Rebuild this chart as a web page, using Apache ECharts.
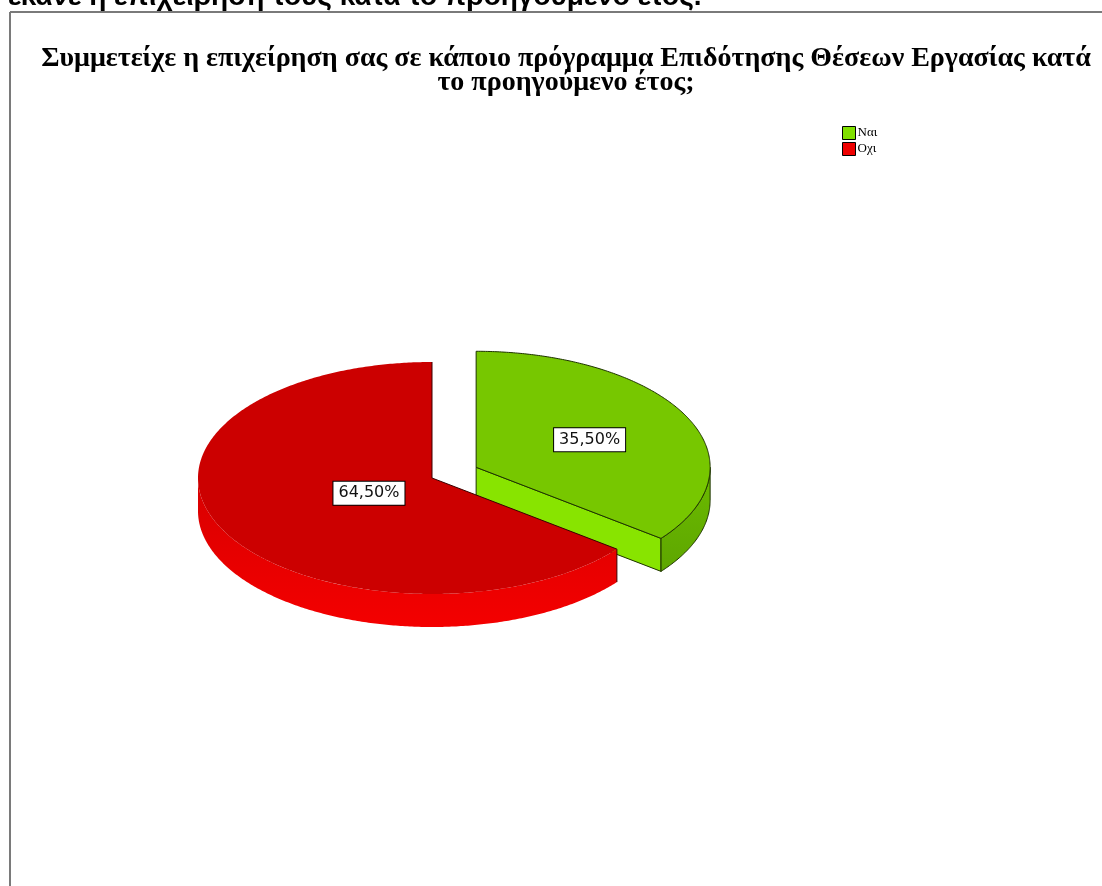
<!DOCTYPE html>
<html>
<head>
<meta charset="utf-8">
<script src="https://cdn.jsdelivr.net/npm/echarts@6/dist/echarts.min.js"></script>
<style>
  html, body { margin: 0; padding: 0; background: #fff; }
  #chart { width: 1102px; height: 886px; }
</style>
</head>
<body>
<div id="chart"></div>
<script>
// Survey answers and their shares (%)
const categories = ['Ναι', 'Οχι'];
const values = [35.5, 64.5];
const legendColors = ['#80E000', '#EE0000'];

const titleText = 'Συμμετείχε η επιχείρηση σας σε κάποιο πρόγραμμα Επιδότησης Θέσεων Εργασίας κατά\nτο προηγούμενο έτος;';
const headerText = 'έκανε η επιχείρησή τους κατά το προηγούμενο έτος.';

// Drawing style of the tilted pie
const PIE = { cx: 432, cy: 478, rx: 234, ry: 116, depth: 33 };
const sliceStyle = [
  { top: '#77C700', side: ['#6CBC00', '#5EA600'], cut: '#88E400', edge: '#1E3300', explode: 0.21, labelR: 0.54, strokeAll: true },
  { top: '#CC0000', side: ['#D80000', '#F40000'], cut: '#E00000', edge: '#3A0000', explode: 0, labelR: 0.30, strokeAll: false }
];

const total = values.reduce((a, b) => a + b, 0);
function startAngle(i) {
  let s = 0;
  for (let k = 0; k < i; k++) s += values[k];
  return s / total * Math.PI * 2;
}

function makeRenderer(i) {
  return function (params, api) {
    const st = sliceStyle[i];
    const v = api.value(0);
    const a0 = startAngle(i);
    const a1 = a0 + v / total * Math.PI * 2;
    const mid = (a0 + a1) / 2;
    const ox = PIE.cx + st.explode * PIE.rx * Math.sin(mid);
    const oy = PIE.cy - st.explode * PIE.ry * Math.cos(mid);
    const pt = (a, dz) => [ox + PIE.rx * Math.sin(a), oy - PIE.ry * Math.cos(a) + (dz || 0)];
    const arc = (from, to, dz) => {
      const pts = [];
      const n = Math.max(2, Math.ceil(Math.abs(to - from) / 0.01));
      for (let k = 0; k <= n; k++) pts.push(pt(from + (to - from) * k / n, dz));
      return pts;
    };
    const D = PIE.depth;
    const children = [];
    const edgeStroke = st.strokeAll ? st.edge : null;

    // cut face at the end edge (faces the viewer when sin > 0)
    if (Math.sin(a1) > 1e-6) {
      const p = pt(a1);
      children.push({
        type: 'polygon',
        shape: { points: [[ox, oy], p, [p[0], p[1] + D], [ox, oy + D]] },
        style: { fill: st.cut, stroke: edgeStroke, lineWidth: 1 }
      });
    }
    // cut face at the start edge
    if (Math.sin(a0) < -1e-6) {
      const p = pt(a0);
      children.push({
        type: 'polygon',
        shape: { points: [[ox, oy], p, [p[0], p[1] + D], [ox, oy + D]] },
        style: { fill: st.cut, stroke: edgeStroke, lineWidth: 1 }
      });
    }
    // outer rim, front half only
    const r0 = Math.max(a0, Math.PI / 2);
    const r1 = Math.min(a1, Math.PI * 1.5);
    if (r1 > r0) {
      const pts = arc(r0, r1, 0).concat(arc(r1, r0, D));
      children.push({
        type: 'polygon',
        shape: { points: pts },
        style: {
          fill: {
            type: 'linear', x: 0, y: 0, x2: 0, y2: 1,
            colorStops: [{ offset: 0, color: st.side[0] }, { offset: 1, color: st.side[1] }]
          },
          stroke: edgeStroke, lineWidth: 1
        }
      });
      if (!st.strokeAll && r0 === a0) {
        const pe = pt(r0);
        children.push({
          type: 'line',
          shape: { x1: pe[0], y1: pe[1], x2: pe[0], y2: pe[1] + D },
          style: { stroke: st.edge, lineWidth: 1 }
        });
      }
    }
    // top face
    const top = [[ox, oy]].concat(arc(a0, a1, 0));
    children.push({
      type: 'polygon',
      shape: { points: top },
      style: { fill: st.top, stroke: edgeStroke, lineWidth: 1 }
    });
    if (!st.strokeAll) {
      children.push({
        type: 'polyline',
        shape: { points: [pt(a0), [ox, oy], pt(a1)] },
        style: { stroke: st.edge, lineWidth: 1, fill: null }
      });
    }
    // value label
    const lx = ox + st.labelR * PIE.rx * Math.sin(mid);
    const ly = oy - st.labelR * PIE.ry * Math.cos(mid);
    children.push({
      type: 'text',
      x: lx, y: ly,
      style: {
        text: (v / total * 100).toFixed(2).replace('.', ',') + '%',
        fill: '#111',
        font: '16px "DejaVu Sans"',
        align: 'center', verticalAlign: 'middle',
        backgroundColor: '#fff', borderColor: '#000', borderWidth: 1,
        padding: [4, 5, 3, 5]
      }
    });
    return { type: 'group', children: children };
  };
}

const chart = echarts.init(document.getElementById('chart'), null, { renderer: 'canvas' });
chart.setOption({
  backgroundColor: '#fff',
  animation: false,
  title: {
    text: titleText,
    left: 561, top: 42,
    textAlign: 'center',
    textStyle: {
      fontFamily: '"Liberation Serif", serif',
      fontWeight: 'bold',
      fontSize: 28,
      lineHeight: 24,
      color: '#000'
    }
  },
  legend: {
    orient: 'vertical',
    left: 842, top: 126,
    padding: 0,
    itemWidth: 13, itemHeight: 13, itemGap: 2,
    icon: 'rect',
    data: categories,
    itemStyle: { borderColor: '#000', borderWidth: 1 },
    textStyle: { fontFamily: '"Liberation Serif", serif', fontSize: 13, color: '#000', padding: [0, 0, 0, -3] }
  },
  graphic: [
    {
      type: 'text', left: 8, top: -17,
      style: { text: headerText, font: 'bold 28px "Liberation Sans", Arial, sans-serif', fill: '#000' }
    },
    { type: 'line', shape: { x1: 10, y1: 12, x2: 1102, y2: 12 }, style: { stroke: '#7a7a7a', lineWidth: 2 } },
    { type: 'line', shape: { x1: 10, y1: 12, x2: 10, y2: 886 }, style: { stroke: '#7a7a7a', lineWidth: 2 } }
  ],
  series: categories.map((name, i) => ({
    type: 'custom',
    name: name,
    coordinateSystem: 'none',
    itemStyle: { color: legendColors[i] },
    data: [values[i]],
    renderItem: makeRenderer(i)
  }))
});
</script>
</body>
</html>
